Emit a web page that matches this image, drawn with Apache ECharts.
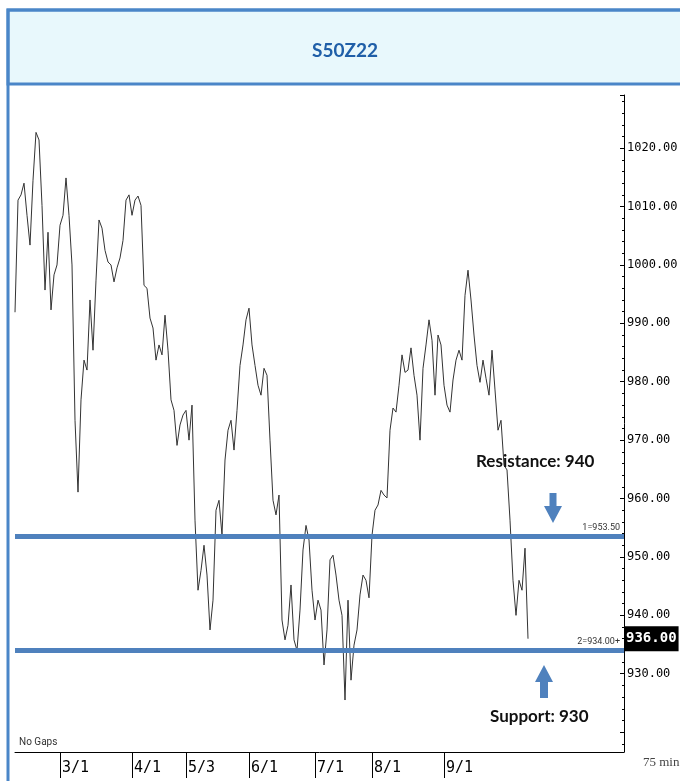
<!DOCTYPE html>
<html><head><meta charset="utf-8">
<script src="https://cdn.jsdelivr.net/npm/echarts@6/dist/echarts.min.js"></script>
<style>html,body{margin:0;padding:0;background:#fff}#c{width:680px;height:781px}</style>
</head><body><div id="c"></div>
<script>
// 75-min closes (one value per ~3 px of the original)
const prices = [
991.9, 1011.1, 1012.0, 1014.0, 1008.5, 1003.4, 1014.5, 1022.7, 1021.4, 1010.2,
995.7, 1005.6, 992.3, 998.3, 1000.0, 1006.8, 1008.5, 1014.9, 1008.5, 1000.0,
973.4, 961.1, 976.9, 983.7, 982.0, 994.0, 985.4, 997.4, 1007.7, 1006.3,
1002.5, 1000.5, 1000.0, 997.1, 999.5, 1001.2, 1004.2, 1011.1, 1012.0, 1008.5,
1011.1, 1011.8, 1010.2, 996.5, 996.0, 990.9, 989.2, 983.7, 986.3, 984.6,
991.4, 985.4, 976.9, 975.1, 969.1, 972.6, 974.3, 975.1, 970.0, 976.0,
956.3, 944.3, 947.7, 952.0, 946.9, 937.5, 942.6, 958.0, 959.7, 953.7,
966.6, 971.7, 973.4, 968.3, 975.1, 982.8, 986.3, 990.6, 992.6, 986.3,
982.8, 979.4, 977.7, 982.3, 981.1, 970.0, 959.7, 957.2, 960.6, 939.2,
935.8, 938.3, 945.2, 935.8, 934.0, 940.9, 951.2, 955.4, 952.9, 944.3,
939.2, 942.6, 940.9, 931.5, 937.5, 949.5, 950.3, 946.9, 942.6, 940.0,
925.5, 942.6, 928.9, 934.9, 937.5, 943.5, 946.9, 946.0, 943.0, 953.7,
958.0, 958.9, 961.4, 960.6, 960.1, 971.7, 975.5, 974.8, 979.4, 984.6,
981.6, 982.0, 985.8, 981.1, 977.7, 970.0, 982.3, 986.3, 990.6, 987.1,
977.7, 988.0, 986.3, 979.4, 976.0, 974.8, 980.3, 983.7, 985.4, 983.7,
994.8, 999.1, 994.0, 988.0, 982.8, 979.9, 983.7, 980.6, 977.7, 985.4,
978.6, 971.7, 973.4, 965.7, 964.9, 956.3, 946.0, 940.0, 946.0, 944.3,
951.5, 936.0
];
const tickIndex = [15, 39, 57, 78, 100, 119, 143];
const tickLabels = ['3/1', '4/1', '5/3', '6/1', '7/1', '8/1', '9/1'];
const totalSlots = 204;
const resistanceLevel = 953.5;
const supportLevel = 934.0;
const lastPrice = 936.0;
const yLabelMin = 930, yLabelMax = 1020;

const categories = [];
for (let i = 0; i < totalSlots; i++) categories.push(String(i));
const isTick = (i) => tickIndex.indexOf(i) >= 0;

const axisFont = "'DejaVu Sans Mono', monospace";
const blue = '#4f81bd';

const chart = echarts.init(document.getElementById('c'), null, {renderer: 'canvas'});
chart.setOption({
  animation: false,
  backgroundColor: '#fff',
  grid: {left: 15, right: 56, top: 95, bottom: 29, containLabel: false, outerBoundsMode: 'none'},
  xAxis: {
    type: 'category', data: categories, boundaryGap: false,
    axisLine: {lineStyle: {color: '#000', width: 1}},
    axisTick: {show: true, interval: (i) => isTick(i), length: 26, lineStyle: {color: '#000'}},
    axisLabel: {
      interval: (i) => isTick(i),
      formatter: (v, i) => { const k = tickIndex.indexOf(i); return k >= 0 ? tickLabels[k] : ''; },
      align: 'left', padding: [0, 0, 0, 2], margin: 9,
      fontSize: 15, color: '#000', fontFamily: axisFont
    },
    splitLine: {show: false}
  },
  yAxis: {
    type: 'value', position: 'right', min: 916.6, max: 1029.1,
    splitNumber: 11, minInterval: 10, maxInterval: 10, scale: true,
    axisLine: {show: true, lineStyle: {color: '#000', width: 1}},
    axisTick: {show: true, inside: true, length: 4, lineStyle: {color: '#000'}},
    minorTick: {show: true, splitNumber: 5, length: 2, lineStyle: {color: '#000'}},
    splitLine: {show: false},
    axisLabel: {
      showMinLabel: false, showMaxLabel: false, margin: 3,
      formatter: (v) => (v >= yLabelMin && v <= yLabelMax) ? v.toFixed(2) : '',
      fontSize: 12, color: '#000', fontFamily: axisFont
    }
  },
  series: [{
    type: 'line', data: prices, showSymbol: false, symbol: 'none',
    lineStyle: {color: '#333', width: 1},
    markLine: {
      symbol: 'none', silent: true, animation: false,
      data: [
        {yAxis: resistanceLevel, lineStyle: {color: blue, width: 5, type: 'solid'},
         label: {position: 'insideEndTop', formatter: '1=953.50', fontSize: 9, color: '#333', fontFamily: 'Roboto, sans-serif', distance: 4}},
        {yAxis: supportLevel, lineStyle: {color: blue, width: 5, type: 'solid'},
         label: {position: 'insideEndTop', formatter: '2=934.00+', fontSize: 9, color: '#333', fontFamily: 'Roboto, sans-serif', distance: 4}},
        {yAxis: lastPrice, lineStyle: {color: 'rgba(0,0,0,0)', width: 1},
         label: {show: true, position: 'end', formatter: '936.00', distance: 0, fontSize: 14, fontWeight: 'bold',
                 color: '#fff', backgroundColor: '#000', padding: [6, 2, 5, 2], fontFamily: axisFont}}
      ]
    }
  }],
  graphic: [
    {type: 'rect', z: 100, shape: {x: 8, y: 10, width: 690, height: 74},
     style: {fill: '#e8f8fc', stroke: '#4a86c8', lineWidth: 3}},
    {type: 'rect', z: 101, shape: {x: 8, y: 10, width: 690, height: 790},
     style: {fill: 'none', stroke: '#4a86c8', lineWidth: 3}},
    {type: 'text', z: 102, x: 345, y: 51,
     style: {text: 'S50Z22', fill: '#1f5fa8', font: 'bold 19px Lato, sans-serif', textAlign: 'center', textVerticalAlign: 'middle'}},
    {type: 'text', z: 102, x: 476, y: 462,
     style: {text: 'Resistance: 940', fill: '#111', font: 'bold 17px Lato, sans-serif', textAlign: 'left', textVerticalAlign: 'middle'}},
    {type: 'text', z: 102, x: 490, y: 717,
     style: {text: 'Support: 930', fill: '#111', font: 'bold 17px Lato, sans-serif', textAlign: 'left', textVerticalAlign: 'middle'}},
    {type: 'polygon', z: 102, shape: {points: [[549.5,493],[556.5,493],[556.5,506],[562,506],[553,523],[544,506],[549.5,506]]},
     style: {fill: blue}},
    {type: 'polygon', z: 102, shape: {points: [[544,665],[553,682],[548,682],[548,698],[540,698],[540,682],[535,682]]},
     style: {fill: blue}},
    {type: 'text', z: 102, x: 19, y: 742,
     style: {text: 'No Gaps', fill: '#333', font: "10px Roboto, sans-serif", textAlign: 'left', textVerticalAlign: 'middle'}},
    {type: 'text', z: 102, x: 643, y: 763,
     style: {text: '75 min', fill: '#444', font: "13px 'Liberation Serif', serif", textAlign: 'left', textVerticalAlign: 'middle'}}
  ]
});
</script></body></html>
